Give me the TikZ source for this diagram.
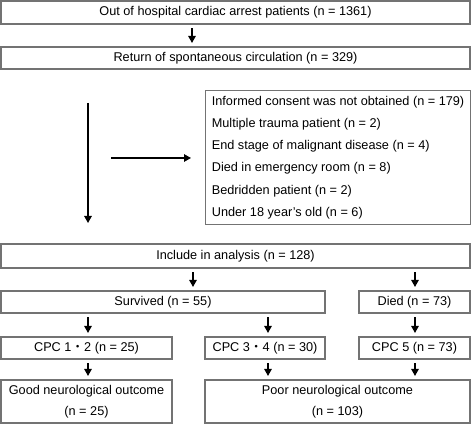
\documentclass[tikz,border=0pt]{standalone}
\usepackage{fontspec}
\setmainfont{Liberation Sans}
\newfontfamily\cjkfont{Noto Sans CJK JP}
\usetikzlibrary{arrows.meta}
\begin{document}
\begin{tikzpicture}[x=1pt,y=-1pt,
  every node/.style={font=\fontsize{12.7}{15.2}\selectfont, inner sep=0pt},
  box/.style={draw=black!55, line width=1.1pt, fill=white},
  arr/.style={line width=1.3pt, -{Triangle[length=7pt,width=7.5pt]}, shorten <=3.5pt, shorten >=3.5pt},
  longarr/.style={line width=1.3pt, -{Triangle[length=7pt,width=7.5pt]}}]
\useasboundingbox (0,0) rectangle (472,425);
\node[box, minimum width=469pt, minimum height=23pt] (b1) at (235.5,12.5) {Out of hospital cardiac arrest patients (n = 1361)};
\node[box, minimum width=469pt, minimum height=22pt] (b2) at (235.5,58) {Return of spontaneous circulation (n = 329)};
\node[box, anchor=north west, align=left, font=\fontsize{12.7}{22.2}\selectfont, minimum width=265pt, minimum height=134pt] (excl) at (205,90)
  {Informed consent was not obtained (n = 179)\\
   Multiple trauma patient (n = 2)\\
   End stage of malignant disease (n = 4)\\
   Died in emergency room (n = 8)\\
   Bedridden patient (n = 2)\\
   Under 18 year’s old (n = 6)};
\node[box, minimum width=469pt, minimum height=24pt] (inc) at (235.5,256) {Include in analysis (n = 128)};
\node[box, minimum width=324pt, minimum height=22pt] (surv) at (163,302) {Survived (n = 55)};
\node[box, minimum width=111pt, minimum height=22pt] (died) at (414.5,302) {Died (n = 73)};
\node[box, minimum width=171pt, minimum height=22pt] (cpc12) at (86.5,348) {CPC 1{\cjkfont ・}2 (n = 25)};
\node[box, minimum width=120pt, minimum height=22pt] (cpc34) at (265,348) {CPC 3{\cjkfont ・}4 (n = 30)};
\node[box, minimum width=111pt, minimum height=22pt] (cpc5) at (414.5,348) {CPC 5 (n = 73)};
\node[box, minimum width=171pt, minimum height=43pt, align=center, font=\fontsize{12.7}{21}\selectfont] (good) at (86.5,401.5) {Good neurological outcome\\(n = 25)};
\node[box, minimum width=265pt, minimum height=43pt, align=center, font=\fontsize{12.7}{21}\selectfont] (poor) at (337.5,401.5) {Poor neurological outcome\\(n = 103)};
\coordinate (x1) at (192,0);
\coordinate (x2) at (193,0);
\coordinate (x3) at (415,0);
\coordinate (x4) at (88,0);
\coordinate (x5) at (268,0);
\coordinate (v1) at (88,103);
\coordinate (v2) at (88,223);
\coordinate (h1) at (111,158);
\coordinate (h2) at (191,158);
\draw[arr] (b1.south -| x1) -- (b2.north -| x1);
\draw[longarr] (v1) -- (v2);
\draw[longarr] (h1) -- (h2);
\draw[arr] (inc.south -| x2) -- (surv.north -| x2);
\draw[arr] (inc.south -| x3) -- (died.north -| x3);
\draw[arr] (surv.south -| x4) -- (cpc12.north -| x4);
\draw[arr] (surv.south -| x5) -- (cpc34.north -| x5);
\draw[arr] (died.south -| x3) -- (cpc5.north -| x3);
\draw[arr] (cpc12.south -| x4) -- (good.north -| x4);
\draw[arr] (cpc34.south -| x5) -- (poor.north -| x5);
\draw[arr] (cpc5.south -| x3) -- (poor.north -| x3);
\end{tikzpicture}
\end{document}
